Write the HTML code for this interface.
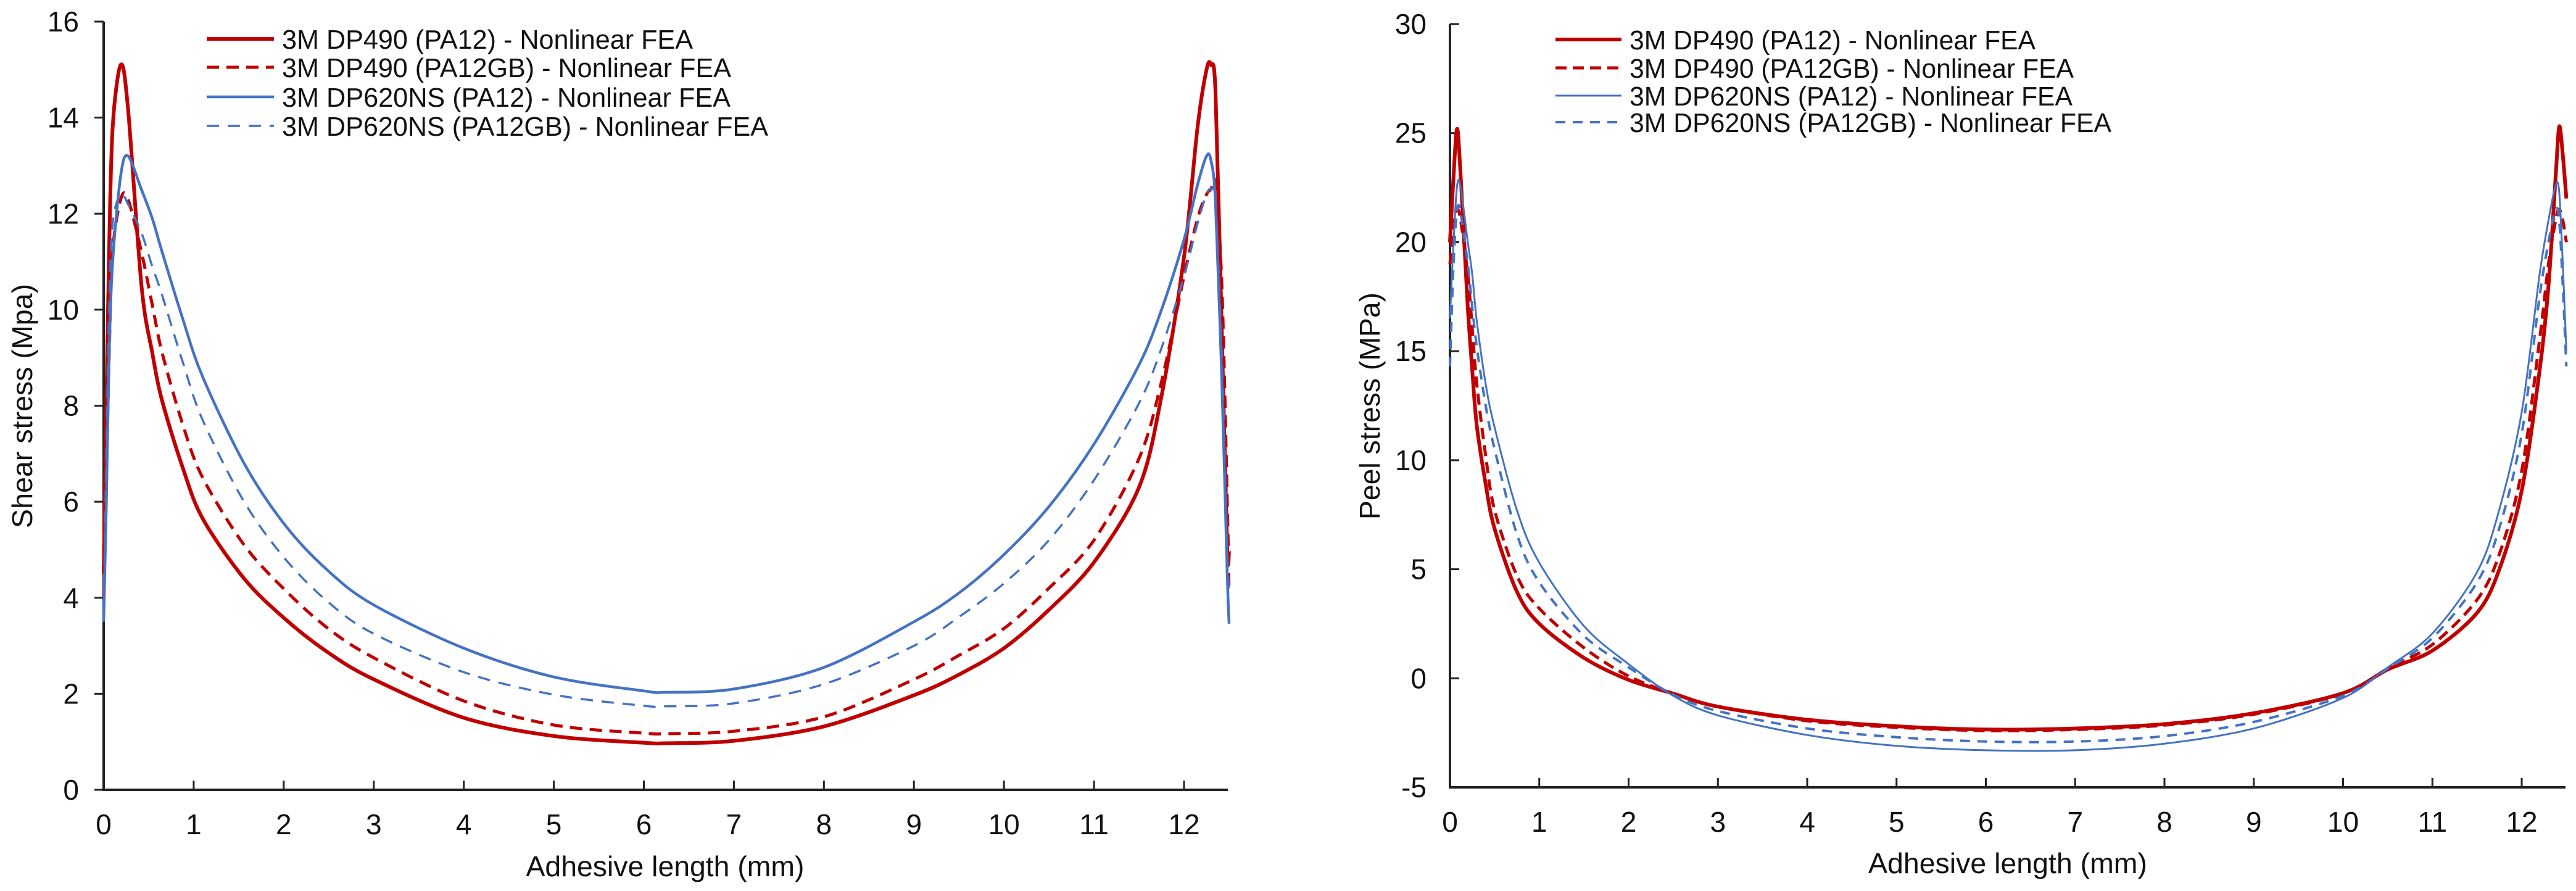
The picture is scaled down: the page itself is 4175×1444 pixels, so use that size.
<!DOCTYPE html>
<html><head><meta charset="utf-8"><style>
html,body{margin:0;padding:0;background:#fff;}
svg{display:block;font-family:"Liberation Sans",Arial,sans-serif;}
</style></head><body>
<svg id="fig" width="4175" height="1444" viewBox="0 0 4175 1444" xmlns="http://www.w3.org/2000/svg">
<rect width="4175" height="1444" fill="#fff"/>
<g id="left"></g>
<g id="right"></g>
</svg>
<script>
// ---- Shear chart data ----
const shearX = [0,0.03,0.06,0.1,0.19,0.27,0.42,0.54,0.65,0.88,1.1,1.56,2.02,2.5,3,4,5,6,6.25,7,8,9,9.5,10,10.5,11,11.5,11.75,12,12.15,12.25,12.3,12.35,12.42,12.48,12.5];
const shearRedSolid = [4.5,8,11.2,13.8,15.1,14.2,10.5,9.1,8.1,6.7,5.65,4.4,3.55,2.85,2.3,1.5,1.12,0.98,0.97,1.02,1.32,1.97,2.4,2.95,3.75,4.74,6.3,8.2,11.1,13.8,15.0,15.1,14.5,9.5,5.0,5.0];
const shearRedDash = [4.0,6.5,9,11.2,12.3,12.3,11.2,10.1,9.1,7.6,6.5,5.1,4.15,3.35,2.75,1.85,1.35,1.18,1.17,1.22,1.52,2.3,2.8,3.36,4.2,5.2,6.9,8.5,10.7,11.9,12.4,12.5,12.6,10.5,6.0,4.1];
const shearBlueSolid = [3.5,6,9,11,12.8,13.2,12.5,11.9,11.2,9.8,8.6,6.8,5.5,4.55,3.85,2.95,2.35,2.06,2.03,2.1,2.55,3.5,4.1,4.9,5.9,7.2,8.85,10.0,11.46,12.6,13.2,13.1,12.2,8.5,4.5,3.46];
const shearBlueDash = [3.8,7,10,11.8,12.4,12.2,11.6,10.9,10.3,8.9,7.7,6.0,4.8,3.9,3.25,2.45,1.98,1.75,1.74,1.8,2.2,3.0,3.6,4.3,5.2,6.45,8.05,9.2,10.7,11.8,12.4,12.5,12.2,9.0,5.0,4.1];
const shearXTicks = [0,1,2,3,4,5,6,7,8,9,10,11,12];
const shearYTicks = [0,2,4,6,8,10,12,14,16];
// ---- Peel chart data ----
const peelX = [0,0.04,0.08,0.12,0.2,0.25,0.3,0.4,0.5,0.75,1,1.5,2,2.5,3,4,5,6,7,8,9,10,10.5,11,11.5,11.75,12,12.2,12.3,12.38,12.42,12.46,12.5];
const peelRedSolid = [20,23,25.2,23,17,14.1,11.6,8.9,6.85,3.97,2.5,0.94,-0.07,-0.7,-1.3,-1.9,-2.2,-2.35,-2.3,-2.1,-1.6,-0.68,0.4,1.27,3.0,5.0,8.6,14.1,18,23,25.3,24,22];
const peelRedDash = [19,21,21.5,21,18.5,16,13.5,10.2,7.7,4.7,3.2,1.4,0.1,-0.7,-1.3,-1.95,-2.25,-2.4,-2.35,-2.15,-1.65,-0.7,0.45,1.55,3.6,5.7,9.5,15.5,19,21,21.5,21,20];
const peelBlueSolid = [16.5,20,22.6,22.5,20,18.5,16.4,13.5,11.5,7.7,5.3,2.4,0.65,-0.8,-1.7,-2.6,-3.1,-3.3,-3.3,-3.0,-2.3,-0.9,0.5,2.06,4.87,7.75,12.2,18.5,21,22.6,22.3,19,15];
const peelBlueDash = [14.3,19,21.5,21.3,19,17,15.2,12.5,10.5,6.6,4.4,1.95,0.5,-0.75,-1.5,-2.3,-2.7,-2.9,-2.9,-2.65,-2.0,-0.8,0.45,1.85,4.4,6.9,11.2,17.5,20,21.5,21,18,14.3];
const peelXTicks = [0,1,2,3,4,5,6,7,8,9,10,11,12];
const peelYTicks = [-5,0,5,10,15,20,25,30];
const legendLabels = ["3M DP490 (PA12) - Nonlinear FEA","3M DP490 (PA12GB) - Nonlinear FEA","3M DP620NS (PA12) - Nonlinear FEA","3M DP620NS (PA12GB) - Nonlinear FEA"];

const NS="http://www.w3.org/2000/svg";
const RED="#c00000", BLUE="#4472c4";
function mk(tag,attrs,parent){const e=document.createElementNS(NS,tag);for(const k in attrs)e.setAttribute(k,attrs[k]);parent.appendChild(e);return e;}
function pathD(pts){
  let d="M"+pts[0][0].toFixed(1)+","+pts[0][1].toFixed(1);
  for(let i=0;i<pts.length-1;i++){
    const p0=pts[Math.max(0,i-1)],p1=pts[i],p2=pts[i+1],p3=pts[Math.min(pts.length-1,i+2)];
    const t=0.16;
    const c1=[p1[0]+(p2[0]-p0[0])*t,p1[1]+(p2[1]-p0[1])*t];
    const c2=[p2[0]-(p3[0]-p1[0])*t,p2[1]-(p3[1]-p1[1])*t];
    d+=" C"+c1[0].toFixed(1)+","+c1[1].toFixed(1)+" "+c2[0].toFixed(1)+","+c2[1].toFixed(1)+" "+p2[0].toFixed(1)+","+p2[1].toFixed(1);
  }
  return d;
}
function chart(g,cfg){
  const sx=v=>cfg.x0+(v-0)*(cfg.x12-cfg.x0)/12;
  const sy=v=>cfg.yb+(v-cfg.ymin)*(cfg.yt-cfg.yb)/(cfg.ymax-cfg.ymin);
  const ya=mk("line",{x1:cfg.x0,y1:sy(cfg.ymin),x2:cfg.x0,y2:sy(cfg.ymax),stroke:"#222","stroke-width":4},g);
  
  
  const xa=mk("line",{x1:cfg.x0-2,y1:sy(cfg.ymin),x2:cfg.xend,y2:sy(cfg.ymin),stroke:"#222","stroke-width":4},g);
  
  
  cfg.xticks.forEach(t=>{
    const l=mk("line",{x1:sx(t),y1:sy(cfg.ymin),x2:sx(t),y2:sy(cfg.ymin)-15,stroke:"#222","stroke-width":3},g);
    
    
    const tx=mk("text",{x:sx(t),y:cfg.xlabY,"font-size":cfg.fs,"text-anchor":"middle",fill:"#111"},g);
    tx.textContent=t;
    
    
  });
  cfg.yticks.forEach(t=>{
    const l=mk("line",{x1:cfg.x0,y1:sy(t),x2:cfg.x0+cfg.ytickDir*15,y2:sy(t),stroke:"#222","stroke-width":3},g);
    
    
    const tx=mk("text",{x:cfg.ylabX,y:sy(t)+16,"font-size":cfg.fs,"text-anchor":"end",fill:"#111"},g);
    tx.textContent=t;
    
    
  });
  const xt=mk("text",{x:cfg.xtX,y:cfg.xtY,"font-size":cfg.fs,"text-anchor":"middle",fill:"#111",textLength:cfg.xtLen,lengthAdjust:"spacingAndGlyphs"},g);
  xt.textContent="Adhesive length (mm)";
  
  
  const yt=mk("text",{x:0,y:0,"font-size":cfg.fs,"text-anchor":"middle",fill:"#111",transform:`translate(${cfg.ytX},${cfg.ytY}) rotate(-90)`,textLength:cfg.ytLen,lengthAdjust:"spacingAndGlyphs"},g);
  yt.textContent=cfg.ytitle;
  
  
  cfg.series.forEach(s=>{
    const pts=cfg.xs.map((x,i)=>[sx(x),sy(s.v[i])]);
    const p=mk("path",{d:pathD(pts),fill:"none",stroke:s.c,"stroke-width":s.w,"stroke-dasharray":s.dash||"none","stroke-linejoin":"round"},g);
    
    
  });
  cfg.series.forEach((s,i)=>{
    const y=cfg.legY[i];
    const l=mk("line",{x1:cfg.legX1,y1:y,x2:cfg.legX2,y2:y,stroke:s.c,"stroke-width":s.lw||s.w,"stroke-dasharray":s.dash||"none"},g);
    
    
    const t=mk("text",{x:cfg.legTX,y:y+16,"font-size":cfg.lfs,fill:"#111",textLength:cfg.legLen[i],lengthAdjust:"spacingAndGlyphs"},g);
    t.textContent=legendLabels[i];
    
    
  });
}
chart(document.getElementById("left"),{
  x0:168,x12:1919,xend:1990,ymin:0,ymax:16,yb:1280,yt:35,
  xticks:shearXTicks,yticks:shearYTicks,fs:46,xlabY:1352,ylabX:128,ytickDir:-1,
  xtX:1078,xtY:1420,xtLen:451,ytX:52,ytY:658,ytLen:396,ytitle:"Shear stress (Mpa)",
  xs:shearX,
  series:[
    {name:"series-dp490-pa12",v:shearRedSolid,c:RED,w:6},
    {name:"series-dp490-pa12gb",v:shearRedDash,c:RED,w:5,dash:"20 12"},
    {name:"series-dp620ns-pa12",v:shearBlueSolid,c:BLUE,w:4.5},
    {name:"series-dp620ns-pa12gb",v:shearBlueDash,c:BLUE,w:3.5,dash:"20 14"}
  ],
  legX1:335,legX2:444,legTX:457,legY:[63,109,157,204],lfs:44,legLen:[666,728,727,788]
});
chart(document.getElementById("right"),{
  x0:2350,x12:4087,xend:4158,ymin:-5,ymax:30,yb:1276,yt:39,
  xticks:peelXTicks,yticks:peelYTicks,fs:46,xlabY:1348,ylabX:2312,ytickDir:1,
  xtX:3254,xtY:1415,xtLen:452,ytX:2236,ytY:658,ytLen:368,ytitle:"Peel stress (MPa)",
  xs:peelX,
  series:[
    {name:"series-dp490-pa12",v:peelRedSolid,c:RED,w:6},
    {name:"series-dp490-pa12gb",v:peelRedDash,c:RED,w:5,dash:"18 10"},
    {name:"series-dp620ns-pa12",v:peelBlueSolid,c:BLUE,w:3},
    {name:"series-dp620ns-pa12gb",v:peelBlueDash,c:BLUE,w:4,dash:"16 12"}
  ],
  legX1:2521,legX2:2628,legTX:2641,legY:[64,110,155,198],lfs:44,legLen:[658,720,718,781]
});
</script>
</body></html>
